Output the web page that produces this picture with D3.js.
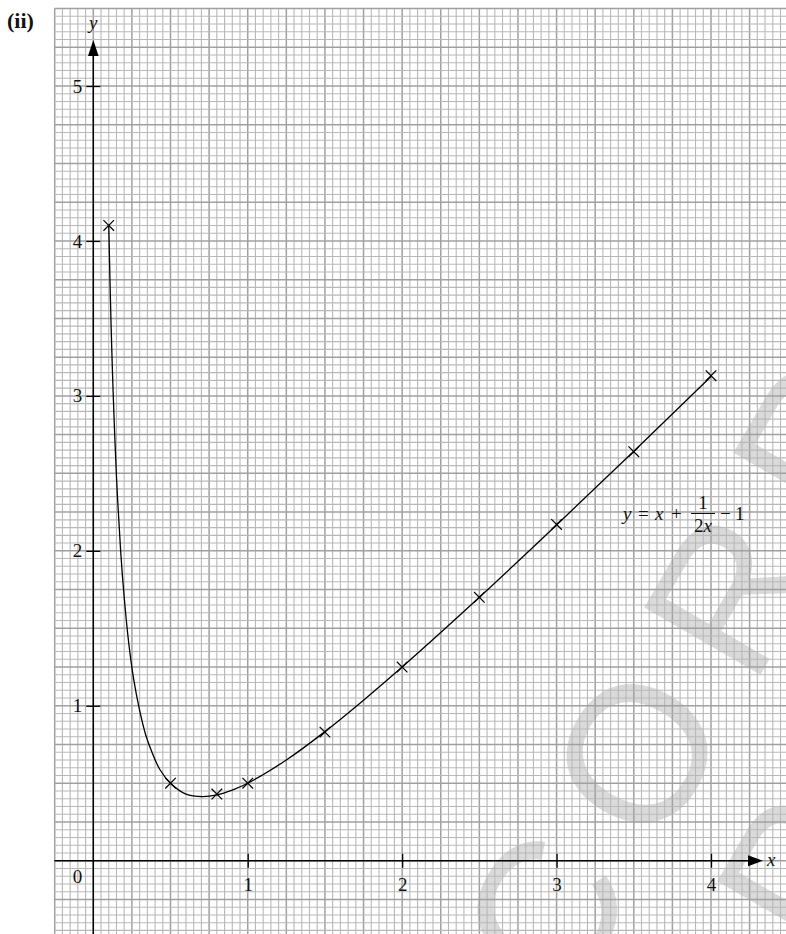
<!DOCTYPE html>
<html>
<head>
<meta charset="utf-8">
<script src="https://cdn.jsdelivr.net/npm/d3@7"></script>
<style>
  html, body { margin: 0; padding: 0; background: #fff; }
  svg { display: block; }
  text { font-family: "Liberation Serif", "DejaVu Serif", serif; fill: #111; }
  text.stamp { font-family: "Liberation Sans", Arial, sans-serif; fill: #dadada; font-size: 195px; letter-spacing: 38px; }
</style>
</head>
<body>
<svg id="chart" width="786" height="934"></svg>
<script>
// Plotted table of values (crosses)
const pointX = [0.1, 0.5, 0.8, 1, 1.5, 2, 2.5, 3, 3.5, 4];
const pointY = [4.1, 0.5, 0.43, 0.5, 0.83, 1.25, 1.7, 2.17, 2.64, 3.13];

// Points along the smooth curve drawn through the crosses
const curveX = [0.1, 0.115, 0.13, 0.15, 0.177, 0.2, 0.23, 0.26, 0.3, 0.34, 0.38, 0.43, 0.5, 0.6, 0.707, 0.8, 0.9, 1, 1.25, 1.5, 1.75, 2, 2.5, 3, 3.5, 4];
const curveY = [4.1, 3.46, 2.98, 2.48, 2.0, 1.7, 1.4, 1.18, 0.97, 0.81, 0.7, 0.59, 0.5, 0.43, 0.414, 0.425, 0.456, 0.5, 0.65, 0.833, 1.036, 1.25, 1.7, 2.167, 2.643, 3.125];

// Axis ticks
const xTicks = [1, 2, 3, 4];
const yTicks = [1, 2, 3, 4, 5];

// Background stamp across the sheet (two lines)
const stampLines = ["UNCORRECTED", "PROOF"];

const svg = d3.select("#chart");
const W = 786, H = 934;

const x = d3.scaleLinear().domain([0, 4]).range([93.3, 711]);
const y = d3.scaleLinear().domain([0, 5]).range([860.7, 86]);

// ---- faint stamp, underneath the graph paper ----
// The group origin sits at the start of the "O" of the first line, on its rotated baseline.
const stamp = svg.append("g")
  .attr("transform", "translate(657.6,852.8) rotate(-60)");
const line1 = stamp.append("text")
  .attr("class", "stamp")
  .attr("x", 0).attr("y", 0)
  .text(stampLines[0])
  .node();
const oStart = line1.getStartPositionOfChar(stampLines[0].indexOf("O")).x;
d3.select(line1).attr("x", -oStart);
const line1Mid = -oStart + line1.getComputedTextLength() / 2;
stamp.append("text")
  .attr("class", "stamp")
  .attr("x", line1Mid).attr("y", 200)
  .attr("text-anchor", "middle")
  .text(stampLines[1]);

// ---- graph paper ----
const gridLeft = 54.5, gridTop = 8.5;
const grid = svg.append("g").attr("class", "grid");
const minorStep = 0.05;
const vx = d3.range(-5, 200).map(k => k * minorStep).filter(v => x(v) >= gridLeft - 0.5 && x(v) <= W);
const hy = d3.range(-20, 200).map(k => k * minorStep).filter(v => y(v) >= gridTop - 0.5 && y(v) <= H);
const isMajor = v => Math.abs(v / 0.25 - Math.round(v / 0.25)) < 1e-6;

grid.selectAll("line.v")
  .data(vx)
  .join("line")
  .attr("x1", d => x(d)).attr("x2", d => x(d))
  .attr("y1", gridTop).attr("y2", H)
  .attr("stroke", d => isMajor(d) ? "#a0a0a0" : "#b8b8b8")
  .attr("stroke-width", d => isMajor(d) ? 1.5 : 1.1);

grid.selectAll("line.h")
  .data(hy)
  .join("line")
  .attr("y1", d => y(d)).attr("y2", d => y(d))
  .attr("x1", gridLeft).attr("x2", W)
  .attr("stroke", d => isMajor(d) ? "#a0a0a0" : "#b8b8b8")
  .attr("stroke-width", d => isMajor(d) ? 1.5 : 1.1);

// ---- axes ----
const axes = svg.append("g").attr("class", "axes");
const x0 = x(0), y0 = y(0);

axes.append("line")
  .attr("x1", gridLeft).attr("x2", 750)
  .attr("y1", y0).attr("y2", y0)
  .attr("stroke", "#000").attr("stroke-width", 1.5);
axes.append("path")
  .attr("d", `M763,${y0} L748,${y0 - 5.5} L748,${y0 + 5.5} Z`)
  .attr("fill", "#000");

axes.append("line")
  .attr("x1", x0).attr("x2", x0)
  .attr("y1", H).attr("y2", 54)
  .attr("stroke", "#000").attr("stroke-width", 1.5);
axes.append("path")
  .attr("d", `M${x0},40 L${x0 - 5.3},56 L${x0 + 5.3},56 Z`)
  .attr("fill", "#000");

const xAxis = svg.append("g")
  .attr("transform", `translate(0,${y0})`)
  .call(d3.axisBottom(x).tickValues(xTicks).tickSize(7).tickPadding(10).tickFormat(d3.format("d")));
const yAxis = svg.append("g")
  .attr("transform", `translate(${x0},0)`)
  .call(d3.axisLeft(y).tickValues(yTicks).tickSize(7).tickPadding(4).tickFormat(d3.format("d")));

[xAxis, yAxis].forEach(g => {
  g.attr("font-size", null).attr("font-family", null);
  g.select(".domain").remove();
  g.selectAll("text").style("font-size", "19px");
  g.selectAll(".tick line").attr("stroke", "#000").attr("stroke-width", 1.3);
});
xAxis.selectAll(".tick line").attr("y1", -7).attr("y2", 7);
yAxis.selectAll(".tick line").attr("x1", -7).attr("x2", 7);

svg.append("text").attr("x", 77.5).attr("y", 883)
  .attr("text-anchor", "middle").style("font-size", "19px").text("0");
svg.append("text").attr("x", x0).attr("y", 29)
  .attr("text-anchor", "middle").style("font-size", "19px").style("font-style", "italic").text("y");
svg.append("text").attr("x", 767).attr("y", 866)
  .style("font-size", "19px").style("font-style", "italic").text("x");

// part label
svg.append("text").attr("x", 7).attr("y", 28)
  .style("font-size", "22px").style("font-weight", "bold").text("(ii)");

// ---- curve ----
const curvePts = curveX.map((v, i) => [v, curveY[i]]);
svg.append("path")
  .datum(curvePts)
  .attr("d", d3.line().x(d => x(d[0])).y(d => y(d[1])).curve(d3.curveCatmullRom.alpha(0.5)))
  .attr("fill", "none").attr("stroke", "#000").attr("stroke-width", 1.3);

// ---- crosses ----
const s = 5.3;
svg.append("g").selectAll("path")
  .data(pointX.map((v, i) => [v, pointY[i]]))
  .join("path")
  .attr("d", d => {
    const cx = x(d[0]), cy = y(d[1]);
    return `M${cx - s},${cy - s}L${cx + s},${cy + s}M${cx - s},${cy + s}L${cx + s},${cy - s}`;
  })
  .attr("stroke", "#000").attr("stroke-width", 1.2).attr("fill", "none");

// ---- equation label: y = x + 1/(2x) − 1 ----
const eq = svg.append("g").style("font-size", "19px");
const eqBase = 520;
eq.append("text").attr("x", 623).attr("y", eqBase).style("font-style", "italic").text("y");
eq.append("text").attr("x", 638).attr("y", eqBase).text("=");
eq.append("text").attr("x", 655).attr("y", eqBase).style("font-style", "italic").text("x");
eq.append("text").attr("x", 671).attr("y", eqBase).text("+");
eq.append("text").attr("x", 703).attr("y", 509).attr("text-anchor", "middle").text("1");
eq.append("line").attr("x1", 691).attr("x2", 715).attr("y1", 513.5).attr("y2", 513.5)
  .attr("stroke", "#111").attr("stroke-width", 1);
const den = eq.append("text").attr("x", 703).attr("y", 532).attr("text-anchor", "middle");
den.append("tspan").text("2");
den.append("tspan").style("font-style", "italic").text("x");
eq.append("text").attr("x", 720).attr("y", eqBase).text("\u2212");
eq.append("text").attr("x", 735).attr("y", eqBase).text("1");
</script>
</body>
</html>
